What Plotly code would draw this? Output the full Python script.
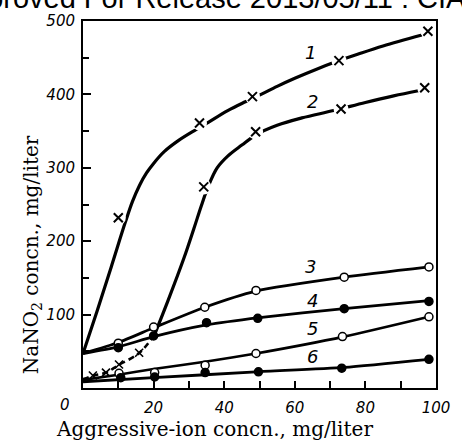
import plotly.graph_objects as go

# ---------------- data ----------------
# Curve 1 (crosses)
c1_line_x = [0, 4, 8, 12, 14, 16, 18, 20, 23, 27, 32, 35.5, 41, 46, 50, 55, 60, 66, 72, 78, 85, 96]
c1_line_y = [47, 105, 165, 226, 254, 276, 293, 306, 322, 337, 352, 362, 378, 390, 399, 411, 422, 434, 445, 455, 466, 481]
c1_mark_x = [10, 33, 48, 72.5, 97.7]
c1_mark_y = [232, 361, 397, 446, 486]

# Curve 2 (crosses): dashed low part, solid upper part
c2_dash_x = [0, 3, 6.5, 10, 16, 20.3]
c2_dash_y = [12, 17, 21, 31, 48, 73]
c2_line_x = [20.3, 24, 28.6, 31.4, 33.5, 35.5, 38, 41, 45, 49, 55, 62, 71, 80, 88, 95]
c2_line_y = [73, 118, 177, 217, 248, 275, 300, 316, 331, 345, 358, 368, 378, 389, 398, 405]
c2_lowmark_x = [2.8, 6.5, 10.2, 15.9]
c2_lowmark_y = [17, 21, 32, 48]
c2_mark_x = [34.2, 48.9, 73.1, 96.8]
c2_mark_y = [274, 349, 380, 409]

# Curve 3 (open circles)
c3_line_x = [0, 10, 20, 34.5, 49, 74, 98]
c3_line_y = [47, 62, 82, 110, 132, 151, 165]
c3_mark_x = [10, 20, 34.5, 49, 74, 98]
c3_mark_y = [61, 83, 110, 133, 151, 165]

# Curve 4 (filled circles)
c4_line_x = [0, 10, 20, 35, 50, 74, 98]
c4_line_y = [47, 56, 70, 86, 96, 108, 119]
c4_mark_x = [10, 20, 35, 49.5, 74, 98]
c4_mark_y = [55, 71, 89, 95, 108, 118]

# Curve 5 (open circles)
c5_line_x = [0, 10, 20, 35, 49, 74, 98]
c5_line_y = [11, 18, 26, 36, 47, 70, 97]
c5_mark_x = [10.2, 20.3, 34.6, 49, 73.5, 98]
c5_mark_y = [20, 21, 31, 47, 70, 97]

# Curve 6 (filled circles)
c6_line_x = [0, 20, 49, 74, 98]
c6_line_y = [8.5, 14, 22, 28, 39]
c6_mark_x = [10.7, 20.3, 34.6, 49.7, 73.3, 98]
c6_mark_y = [14, 15, 21, 22, 27, 39]

# curve number labels
lab_text = ["1", "2", "3", "4", "5", "6"]
lab_x = [64.5, 65, 64.5, 65, 65, 65]
lab_y = [457, 391, 165, 119, 81, 43]

x_tickvals = [10, 20, 30, 40, 50, 60, 70, 80, 90, 100]
x_ticktext = ["", "20", "", "40", "", "60", "", "80", "", "100"]
y_tickvals = [100, 200, 300, 400, 500]
y_ticktext = ["100", "200", "300", "400", "500"]
y_minorvals = [50, 150, 250, 350, 450]

# ---------------- figure ----------------
fig = go.Figure()
BLACK = "black"


def line(x, y, w, dash="solid", smoothing=1.0):
    fig.add_trace(go.Scatter(x=x, y=y, mode="lines",
                             line=dict(color=BLACK, width=w, shape="spline", smoothing=smoothing, dash=dash),
                             hoverinfo="skip", showlegend=False))


def marks(x, y, symbol, size, fill, lw=1.5, bg=False):
    if bg:
        fig.add_trace(go.Scatter(x=x, y=y, mode="markers",
                                 marker=dict(symbol="circle", size=size + 6, color="white",
                                             line=dict(width=0)),
                                 hoverinfo="skip", showlegend=False))
    fig.add_trace(go.Scatter(x=x, y=y, mode="markers",
                             marker=dict(symbol=symbol, size=size, color=fill,
                                         line=dict(color=BLACK, width=lw)),
                             hoverinfo="skip", showlegend=False))


line(c1_line_x, c1_line_y, 3.2)
line(c2_dash_x, c2_dash_y, 2.6, dash="6px,4px")
line(c2_line_x, c2_line_y, 3.2)
line(c3_line_x, c3_line_y, 2.8, smoothing=0.6)
line(c4_line_x, c4_line_y, 2.8, smoothing=0.6)
line(c5_line_x, c5_line_y, 2.6, smoothing=0.6)
line(c6_line_x, c6_line_y, 2.8, smoothing=0.6)

marks(c1_mark_x, c1_mark_y, "x-thin-open", 9, BLACK, lw=2, bg=True)
marks(c2_mark_x, c2_mark_y, "x-thin-open", 9, BLACK, lw=2, bg=True)
marks(c2_lowmark_x, c2_lowmark_y, "x-thin-open", 8, BLACK, lw=1.6)
marks(c3_mark_x, c3_mark_y, "circle", 8, "white", lw=1.5)
marks(c4_mark_x, c4_mark_y, "circle", 8, BLACK, lw=1.5)
marks(c5_mark_x, c5_mark_y, "circle", 8, "white", lw=1.5)
marks(c6_mark_x, c6_mark_y, "circle", 8, BLACK, lw=1.5)

annotations = []
for t, x, y in zip(lab_text, lab_x, lab_y):
    annotations.append(dict(x=x, y=y, xref="x", yref="y", text=t, showarrow=False,
                            font=dict(family="DejaVu Sans", size=18, color=BLACK, style="italic")))

serif = dict(family="DejaVu Serif", size=20, color=BLACK)
annotations += [
    dict(x=-0.146, y=0.363, xref="paper", yref="paper", text="NaNO<sub>2</sub> concn., mg/liter",
         textangle=-90, showarrow=False, font=serif, xanchor="center", yanchor="middle"),
    dict(x=0.373, y=-0.113, xref="paper", yref="paper", text="Aggressive-ion concn., mg/liter",
         showarrow=False, font=serif, xanchor="center", yanchor="middle"),
    dict(x=-0.05, y=-0.046, xref="paper", yref="paper", text="0", showarrow=False,
         font=dict(family="DejaVu Sans", size=15, color=BLACK, style="italic"),
         xanchor="center", yanchor="middle"),
    dict(x=-0.323, y=1.064, xref="paper", yref="paper",
         text="pproved For Release 2013/05/11 : CIA-RDP", showarrow=False,
         font=dict(family="Liberation Sans", size=29, color=BLACK),
         xanchor="left", yanchor="middle"),
]

axis_common = dict(showline=True, linecolor=BLACK, linewidth=2, mirror=True,
                   showgrid=False, zeroline=False, ticks="inside", tickcolor=BLACK,
                   tickwidth=1.5,
                   tickfont=dict(family="DejaVu Sans", size=15, color=BLACK, style="italic"))

fig.update_layout(
    width=462, height=442,
    margin=dict(l=83, r=17, t=16, b=54),
    paper_bgcolor="white", plot_bgcolor="white",
    showlegend=False,
    xaxis=dict(range=[0, 100], tickmode="array", tickvals=x_tickvals, ticktext=x_ticktext,
               ticklen=7, ticklabelstandoff=5, **axis_common),
    yaxis=dict(range=[0, 500], tickmode="array", tickvals=y_tickvals, ticktext=y_ticktext,
               ticklen=8, ticklabelstandoff=3,
               minor=dict(tickmode="array", tickvals=y_minorvals, ticks="inside", ticklen=6,
                          tickcolor=BLACK, tickwidth=1.5),
               **axis_common),
    annotations=annotations,
)

fig.write_html("out.html")
